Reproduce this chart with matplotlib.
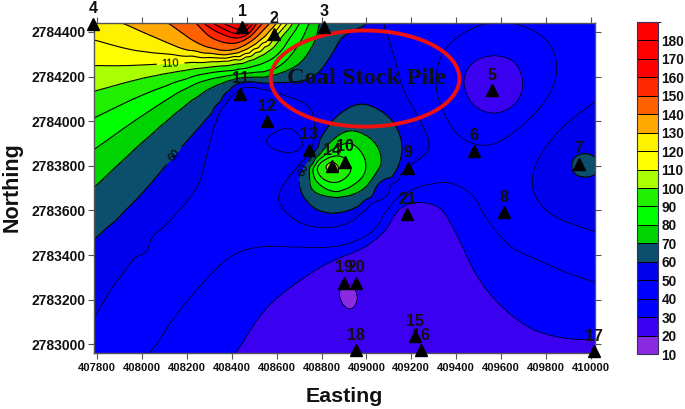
import numpy as np
import matplotlib
matplotlib.use("Agg")
import matplotlib.pyplot as plt
from matplotlib.colors import ListedColormap, BoundaryNorm
from matplotlib.patches import Ellipse

plt.rcParams['font.family'] = ['Liberation Sans', 'DejaVu Sans']

# ---- contour readings: (easting, northing) on each level ----
e180 = [408366, 408432, 408477]; n180 = [2784436, 2784413, 2784436]
e170 = [408321, 408432, 408490]; n170 = [2784436, 2784391, 2784436]
e160 = [408277, 408343, 408419, 408477, 408508]; n160 = [2784436, 2784396, 2784373, 2784391, 2784436]
e150 = [408245, 408312, 408419, 408490, 408535]; n150 = [2784436, 2784373, 2784351, 2784391, 2784436]
e140 = [408121, 408254, 408388, 408490, 408566]; n140 = [2784436, 2784347, 2784316, 2784360, 2784436]
e130 = [407920, 408063, 408210, 408401, 408508, 408597]; n130 = [2784436, 2784373, 2784316, 2784302, 2784347, 2784436]
e120 = [407782, 407974, 408223, 408432, 408553, 408620]; n120 = [2784364, 2784316, 2784293, 2784284, 2784347, 2784436]
e110 = [407782, 407920, 408121, 408312, 408464, 408579, 408646]; n110 = [2784249, 2784249, 2784258, 2784267, 2784293, 2784369, 2784436]
e100 = [407782, 408018, 408241, 408432, 408566, 408669]; n100 = [2784133, 2784196, 2784236, 2784258, 2784316, 2784436]
e90 = [407782, 408018, 408285, 408464, 408597, 408700]; n90 = [2784013, 2784124, 2784213, 2784236, 2784293, 2784436]
e80 = [407782, 408018, 408241, 408419, 408597, 408700, 408744]; n80 = [2783871, 2784036, 2784169, 2784209, 2784236, 2784347, 2784436]
e70 = [407782, 408076, 408285, 408419, 408566, 408700, 408775, 408789]; n70 = [2783702, 2783973, 2784138, 2784191, 2784204, 2784258, 2784373, 2784436]
e60 = [407782, 407974, 408165, 408312, 408432, 408566, 408758, 408847, 408891, 408998]
n60 = [2783467, 2783649, 2783871, 2784036, 2784169, 2784169, 2784196, 2784302, 2784373, 2784436]
# closed bump near stations 10 and 14
bump60e = [408967, 408865, 408758, 408700, 408758, 408847, 408967, 409114, 409158, 409123, 409043]
bump60n = [2784076, 2784018, 2783858, 2783724, 2783618, 2783587, 2783618, 2783738, 2783884, 2783991, 2784058]
bump70e = [408922, 408820, 408753, 408758, 408847, 408980, 409065, 409025]
bump70n = [2783956, 2783884, 2783769, 2783693, 2783662, 2783693, 2783827, 2783916]
bump80e = [408922, 408789, 408758, 408811, 408878, 408989, 408989]
bump80n = [2783902, 2783827, 2783769, 2783702, 2783684, 2783760, 2783840]
bump90e = [408847, 408780, 408811, 408878, 408931, 408891]
bump90n = [2783840, 2783796, 2783738, 2783729, 2783782, 2783840]
bump100e = [408847, 408878, 408847, 408820]
bump100n = [2783818, 2783782, 2783773, 2783796]
# level 50
e50 = [407782, 407885, 408032, 408196, 408254, 408312, 408357, 408455, 408611, 408744, 408767, 408758, 408722,
       408624, 408611, 408700, 408802, 408922, 409069, 409190, 409279, 409234, 409167, 409123, 409078]
n50 = [2783116, 2783280, 2783458, 2783636, 2783724, 2783947, 2784062, 2784151, 2784124, 2784062, 2783991, 2783884, 2783827,
       2783707, 2783636, 2783547, 2783524, 2783547, 2783693, 2783796, 2783880, 2784013, 2784138, 2784293, 2784436]
east50e = [410014, 409871, 409755, 409746, 409826, 410014]
east50n = [2784084, 2783969, 2783804, 2783684, 2783582, 2783507]
east60e = [409916, 409969, 409969, 410014, 410014]
east60n = [2783804, 2783853, 2783751, 2783840, 2783760]
# level 40
e40 = [408040, 408210, 408401, 408522, 408700, 408878, 409025, 409132, 409234, 409368, 409470, 409533, 409648, 409737, 409889, 410014]
n40 = [2782969, 2783204, 2783396, 2783436, 2783436, 2783440, 2783502, 2783649, 2783702, 2783724, 2783671, 2783569, 2783436, 2783391, 2783324, 2783280]
loop13e = [408553, 408655, 408717, 408669, 408579]
loop13n = [2783916, 2783969, 2783893, 2783862, 2783880]
loop5e = [409310, 409354, 409501, 409680, 409813, 409849, 409813, 409680, 409546, 409426, 409337]
loop5n = [2784191, 2784324, 2784427, 2784431, 2784351, 2784236, 2784116, 2783969, 2783893, 2783924, 2784058]
# level 30
inner5e = [409435, 409475, 409568, 409662, 409697, 409662, 409568, 409475]
inner5n = [2784182, 2784262, 2784293, 2784262, 2784164, 2784076, 2784036, 2784076]
e30 = [408424, 408553, 408700, 408847, 408998, 409087, 409145, 409221, 409323, 409390, 409444, 409488, 409590, 409737, 409889, 410014]
n30 = [2782973, 2783160, 2783284, 2783373, 2783440, 2783516, 2783604, 2783636, 2783613, 2783516, 2783404, 2783316, 2783182, 2783071, 2783027, 2783022]
# level 20
e20 = [408887, 408900, 408936, 408958, 408936]
n20 = [2783258, 2783173, 2783160, 2783204, 2783258]
# spot readings inside bands
spot_e = [408432, 408847, 409991, 408646, 409568, 408918, 408700, 409145, 409368, 409724, 409234,
          408477, 409234, 409470, 409635, 409635, 410014, 409991, 407782, 408210, 408700, 409991, 410014,
          407987, 408878, 409234, 408945,
          408557, 408477, 408566, 408366, 408414, 408620]
spot_n = [2784436, 2783796, 2783804, 2783916, 2784164, 2783213, 2783049, 2783204, 2783005, 2782982, 2783471,
          2783871, 2783760, 2783782, 2783782, 2783516, 2784436, 2784227, 2782969, 2783027, 2783360, 2783151, 2782982,
          2783427, 2784138, 2784138, 2784271,
          2784010, 2784080, 2783790, 2783649, 2783960, 2784050]
spot_v = [190, 105, 66, 37, 25, 16, 25, 25, 25, 29, 26,
          44, 42, 45, 47, 45, 45, 47, 45, 35, 35, 35, 29.5,
          55, 55, 47, 55,
          45, 47, 44, 44, 46, 47]

# stations
station_names = ['1', '2', '3', '4', '5', '6', '7', '8', '9', '10', '11', '12', '13', '14', '15', '16', '17', '18', '19', '20', '21']
station_e = [408446, 408588, 408811, 407782, 409559, 409479, 409947, 409613, 409185, 408905, 408437, 408557, 408744, 408847,
             409216, 409243, 410014, 408954, 408900, 408954, 409181]
station_n = [2784422, 2784391, 2784422, 2784436, 2784138, 2783867, 2783809, 2783591, 2783791, 2783818, 2784124, 2784000, 2783871,
             2783800, 2783036, 2782973, 2782969, 2782973, 2783276, 2783276, 2783582]

levels = list(range(10, 200, 10))
labelled_levels = [60, 110]
band_colors = ['#8A2BE2', '#3C00F0', '#0000FF', '#0000FF', '#0000EE', '#0B4F6C', '#00D400', '#00FF00', '#20F000',
               '#AAFF00', '#FFFF00', '#FFF200', '#FFA800', '#FF6000', '#FF2800', '#FF0000', '#FF0000', '#FF0000']
tick_x = list(range(407800, 410001, 200))
tick_y = list(range(2783000, 2784401, 200))

open_lines = [(e180, n180, 180), (e170, n170, 170), (e160, n160, 160), (e150, n150, 150), (e140, n140, 140), (e130, n130, 130),
              (e120, n120, 120), (e110, n110, 110), (e100, n100, 100), (e90, n90, 90), (e80, n80, 80), (e70, n70, 70), (e60, n60, 60),
              (e50, n50, 50), (east50e, east50n, 50), (e40, n40, 40), (e30, n30, 30)]
closed_lines = [(bump60e, bump60n, 60), (bump70e, bump70n, 70), (bump80e, bump80n, 80), (bump90e, bump90n, 90), (bump100e, bump100n, 100),
                (loop13e, loop13n, 40), (loop5e, loop5n, 40), (inner5e, inner5n, 30), (e20, n20, 20)]


def along_curve(e, n, closed, sub=3):
    """Centripetal spline through a traced contour, so the gridder follows the same curve."""
    p = np.c_[e, n].astype(float)
    if closed:
        p = np.r_[p[-1:], p, p[:2]]
    else:
        p = np.r_[2 * p[:1] - p[1:2], p, 2 * p[-1:] - p[-2:-1]]
    out = []
    for i in range(1, len(p) - 2):
        p0, p1, p2, p3 = p[i - 1], p[i], p[i + 1], p[i + 2]
        d0, d1, d2 = [max(np.hypot(*(b - a)) ** 0.5, 1e-6) for a, b in ((p0, p1), (p1, p2), (p2, p3))]
        m1 = d1 * ((p1 - p0) / d0 - (p2 - p0) / (d0 + d1) + (p2 - p1) / d1)
        m2 = d1 * ((p2 - p1) / d1 - (p3 - p1) / (d1 + d2) + (p3 - p2) / d2)
        for t in np.arange(sub) / sub:
            out.append((2 * t**3 - 3 * t**2 + 1) * p1 + (t**3 - 2 * t**2 + t) * m1
                       + (-2 * t**3 + 3 * t**2) * p2 + (t**3 - t**2) * m2)
    if not closed:
        out.append(p[-2])
    return np.array(out)


chunks, vals = [], []
for ge, gn, val in open_lines:
    c = along_curve(ge, gn, False)
    chunks.append(c)
    vals.append(np.full(len(c), val, float))
for ge, gn, val in closed_lines:
    c = along_curve(ge, gn, True)
    chunks.append(c)
    vals.append(np.full(len(c), val, float))
chunks.append(np.c_[east60e, east60n].astype(float))
vals.append(np.full(len(east60e), 60.0))
chunks.append(np.c_[spot_e, spot_n].astype(float))
vals.append(np.array(spot_v, float))
pts = np.vstack(chunks)
sv = np.concatenate(vals)
se, sn = pts[:, 0], pts[:, 1]

# gridding the readings with a thin-plate surface, as a contouring package would
x0, y0, s = se.mean(), sn.mean(), 1000.0
px, py = (se - x0) / s, (sn - y0) / s


def kernel(d2):
    with np.errstate(divide='ignore', invalid='ignore'):
        out = 0.5 * d2 * np.log(d2)
    return np.nan_to_num(out)


K = kernel((px[:, None] - px) ** 2 + (py[:, None] - py) ** 2) + 3e-4 * np.eye(len(px))
P = np.c_[np.ones_like(px), px, py]
A = np.block([[K, P], [P.T, np.zeros((3, 3))]])
w = np.linalg.solve(A, np.r_[sv, np.zeros(3)])

xlim = (407785, 410021)
ylim = (2782961, 2784440)
gx = np.linspace(*xlim, 400)
gy = np.linspace(*ylim, 260)
GX, GY = np.meshgrid(gx, gy)
qx, qy = ((GX - x0) / s).ravel(), ((GY - y0) / s).ravel()
Z = np.empty(qx.shape)
for i in range(0, len(qx), 5000):
    a, b = qx[i:i + 5000], qy[i:i + 5000]
    Z[i:i + 5000] = kernel((a[:, None] - px) ** 2 + (b[:, None] - py) ** 2) @ w[:-3] + w[-3] + w[-2] * a + w[-1] * b
Z = np.clip(Z.reshape(GX.shape), 10.5, 189.5)

W, H = 685, 409
fig = plt.figure(figsize=(W / 100, H / 100), dpi=100)
ax = fig.add_axes([94 / W, 1 - 353 / H, 501.3 / W, 330 / H])
cmap = ListedColormap(band_colors)
norm = BoundaryNorm(levels, cmap.N)
cf = ax.contourf(GX, GY, Z, levels=levels, cmap=cmap, norm=norm)
plain_levels = [lv for lv in levels if lv not in labelled_levels]
lws = [0.5 if lv <= 50 else 0.8 for lv in plain_levels]
ax.contour(GX, GY, Z, levels=plain_levels, colors='black', linewidths=lws)
cs = ax.contour(GX, GY, Z, levels=labelled_levels, colors='black', linewidths=0.8)
ax.set_xlim(xlim)
ax.set_ylim(ylim)
ax.clabel(cs, inline=True, fontsize=8, fmt='%d',
          manual=[(408125, 2784255), (408160, 2783830), (408720, 2783780)])

ax.add_patch(Ellipse((408994, 2784191), 842, 431, angle=0, fill=False, edgecolor='#F01010', lw=2.8, zorder=5))
ax.text(409000, 2784191, 'Coal Stock Pile', family='Liberation Serif', weight='bold', fontsize=17.6,
        color='#101018', ha='center', va='center', zorder=6)

ax.plot(station_e, station_n, linestyle='none', marker='^', color='black', markersize=9, clip_on=False, zorder=8)
for name, e, n in zip(station_names, station_e, station_n):
    ax.annotate(name, (e, n), xytext=(0, 5.5), textcoords='offset points', ha='center', va='bottom',
                fontsize=11.5, weight='bold', color='#111111', annotation_clip=False, zorder=7)

ax.set_xticks(tick_x)
ax.set_yticks(tick_y)
ax.ticklabel_format(useOffset=False, style='plain')
ax.tick_params(axis='both', direction='out', length=4, width=0.8, color='#555555', top=True, right=True)
ax.tick_params(axis='x', labelsize=8.1, pad=3)
ax.tick_params(axis='y', labelsize=10, pad=2)
for lab in ax.get_xticklabels() + ax.get_yticklabels():
    lab.set_fontweight('bold')
    lab.set_color('#111111')
for sp in ax.spines.values():
    sp.set_color('#555555')
    sp.set_linewidth(1)
    sp.set_zorder(4)
fig.text(344 / W, 1 - 396 / H, 'Easting', ha='center', va='center', fontsize=15.4, weight='bold', color='#111111')
fig.text(12 / W, 1 - 187 / H, 'Northing', ha='center', va='center', rotation=90, fontsize=15.5, weight='bold', color='#111111')

cax = fig.add_axes([637 / W, 1 - 354 / H, 21 / W, 332 / H])
cb = fig.colorbar(cf, cax=cax, ticks=levels[:-1], drawedges=True, spacing='proportional')
cb.dividers.set_color('black')
cb.dividers.set_linewidth(0.7)
cb.outline.set_edgecolor('#333355')
cb.outline.set_linewidth(0.8)
cb.ax.tick_params(length=0, pad=2.5, labelsize=9.8)
for lab in cb.ax.get_yticklabels():
    lab.set_fontweight('bold')
    lab.set_color('#111111')

fig.savefig('out.png', dpi=100)
